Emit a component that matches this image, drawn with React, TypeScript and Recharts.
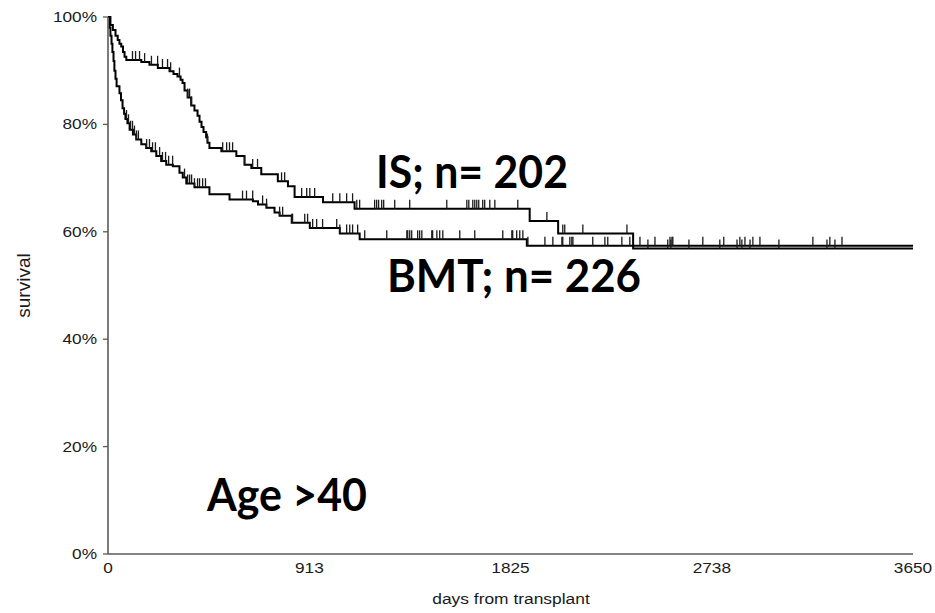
import { ComposedChart, Line, XAxis, YAxis } from "recharts";

// Kaplan-Meier survival, age > 40: IS vs BMT

const END_DAY = 3650;
const X_TICKS = [0, 913, 1825, 2738, 3650];
const Y_TICKS = [0, 20, 40, 60, 80, 100];

const isDays = [0, 11, 22, 34, 44, 52, 60, 68, 75, 83, 151, 188, 226, 279, 297, 315, 329, 338, 347, 361, 377, 392, 406, 415, 424, 433, 445, 451, 460, 514, 582, 619, 650, 695, 770, 816, 846, 975, 1118, 1912, 2041, 2381];
const isSurv = [100, 98.5, 97.6, 96.5, 95.7, 95.0, 94.5, 93.5, 92.6, 92.0, 91.6, 91.1, 90.5, 89.9, 89.4, 88.9, 88.3, 87.7, 86.3, 85.0, 83.5, 82.6, 81.6, 80.5, 79.5, 78.6, 77.6, 76.6, 75.6, 75.0, 74.1, 72.5, 71.9, 70.7, 69.4, 68.5, 66.5, 65.5, 64.3, 62.0, 59.7, 56.9];
const isCensored = [111, 125, 143, 166, 197, 225, 247, 270, 284, 324, 361, 370, 379, 451, 520, 538, 551, 565, 619, 656, 678, 787, 801, 878, 901, 915, 937, 1019, 1051, 1082, 1109, 1128, 1141, 1209, 1218, 1227, 1241, 1250, 1300, 1368, 1536, 1627, 1636, 1654, 1663, 1672, 1681, 1699, 1708, 1731, 1754, 1858, 1990, 2062, 2071, 2153, 2353, 2448, 2538, 2552, 2634, 2774, 2852, 2874, 2911, 3042, 3260, 3296];

const bmtDays = [0, 7, 11, 16, 20, 25, 29, 34, 39, 52, 59, 66, 73, 79, 88, 98, 113, 128, 151, 173, 196, 219, 241, 264, 294, 324, 339, 355, 392, 460, 551, 657, 680, 718, 755, 778, 833, 915, 1051, 1141, 1899];
const bmtSurv = [100, 98.0, 96.5, 95.0, 93.5, 91.8, 90.0, 88.5, 87.1, 85.8, 84.5, 83.0, 82.0, 81.0, 80.2, 79.0, 78.1, 77.2, 76.3, 75.6, 75.0, 74.1, 73.2, 72.5, 72.2, 71.0, 70.1, 69.0, 68.3, 67.0, 66.0, 65.7, 65.1, 64.5, 63.6, 63.0, 61.7, 60.7, 59.7, 58.6, 57.4];
const bmtCensored = [84, 93, 102, 111, 120, 129, 138, 175, 188, 202, 215, 234, 247, 261, 275, 293, 347, 361, 370, 379, 392, 406, 415, 429, 442, 610, 628, 656, 701, 719, 778, 792, 833, 837, 892, 905, 928, 946, 973, 1037, 1051, 1082, 1096, 1109, 1132, 1164, 1264, 1355, 1359, 1368, 1377, 1404, 1413, 1423, 1468, 1472, 1491, 1504, 1518, 1595, 1663, 1790, 1831, 1835, 1853, 1867, 1881, 1904, 1981, 2017, 2058, 2062, 2094, 2103, 2108, 2198, 2253, 2266, 2330, 2366, 2412, 2480, 2548, 2557, 2561, 2697, 2792, 2865, 2888, 2924, 2956, 3196, 3273, 3328];

type Row = { t: number; s: number; censored: boolean };

// step-function rows: events + censor marks (at the current level) + end of follow-up
function buildRows(days: number[], surv: number[], censored: number[]): Row[] {
  const survAt = (t: number) => {
    let s = surv[0];
    for (let i = 0; i < days.length; i++) if (days[i] <= t) s = surv[i];
    return s;
  };
  const rows: Row[] = days.map((t, i) => ({ t, s: surv[i], censored: false }));
  censored.forEach((t) => rows.push({ t, s: survAt(t), censored: true }));
  rows.push({ t: END_DAY, s: survAt(END_DAY), censored: false });
  return rows.sort((a, b) => a.t - b.t);
}

const isRows = buildRows(isDays, isSurv, isCensored);
const bmtRows = buildRows(bmtDays, bmtSurv, bmtCensored);

const FONT = "'Liberation Sans', Arial, sans-serif";
const AXIS = "#5a5a5a";
const TEXT = "#1a1a1a";

const CensorTick = (props: any) => {
  const { cx, cy, payload, index } = props;
  if (!payload?.censored || cx == null || cy == null) return <g key={`n-${index}`} />;
  return <line key={`c-${index}`} x1={cx} x2={cx} y1={cy} y2={cy - 9} stroke="#1a1a1a" strokeWidth={1.3} />;
};

const YTick = ({ x, y, payload }: any) => (
  <text transform={`translate(${x},${y + 5}) scale(1.15,1)`} textAnchor="end" fontSize={15} fontFamily={FONT} fill={TEXT}>
    {payload.value}%
  </text>
);

const XTick = ({ x, y, payload }: any) => (
  <text transform={`translate(${x},${y + 11}) scale(1.15,1)`} textAnchor="middle" fontSize={15} fontFamily={FONT} fill={TEXT}>
    {payload.value}
  </text>
);

const ANNOT = "Lato, 'Open Sans', sans-serif";

export default function App() {
  return (
    <div style={{ position: "fixed", left: 0, top: 0, width: 935, height: 613, background: "#fff" }}>
      <ComposedChart width={935} height={613} margin={{ top: 17, right: 22, left: 0, bottom: 0 }}>
        <XAxis
          type="number"
          dataKey="t"
          domain={[0, END_DAY]}
          ticks={X_TICKS}
          tick={<XTick />}
          tickLine={false}
          tickSize={0}
          tickMargin={8}
          height={59}
          axisLine={{ stroke: AXIS, strokeWidth: 1.6 }}
        />
        <YAxis
          type="number"
          domain={[0, 100]}
          ticks={Y_TICKS}
          tick={<YTick />}
          tickSize={5}
          tickMargin={6}
          width={108}
          tickLine={{ stroke: AXIS, strokeWidth: 1.3 }}
          axisLine={{ stroke: AXIS, strokeWidth: 1.6 }}
        />
        <Line
          data={bmtRows}
          dataKey="s"
          type="stepAfter"
          stroke="#000"
          strokeWidth={2}
          dot={CensorTick}
          activeDot={false}
          isAnimationActive={false}
        />
        <Line
          data={isRows}
          dataKey="s"
          type="stepAfter"
          stroke="#000"
          strokeWidth={2}
          dot={CensorTick}
          activeDot={false}
          isAnimationActive={false}
        />
      </ComposedChart>
      <svg width={935} height={613} style={{ position: "absolute", left: 0, top: 0, pointerEvents: "none" }}>
        <text transform="translate(30,285.5) rotate(-90)" textAnchor="middle" fontSize={19} fontFamily={FONT} fill={TEXT}>
          survival
        </text>
        <text transform="translate(511,604) scale(1.2,1)" textAnchor="middle" fontSize={14.5} fontFamily={FONT} fill={TEXT}>
          days from transplant
        </text>
        <text x={472} y={188} textAnchor="middle" fontSize={45} fontWeight="bold" fontFamily={ANNOT} fill="#000" textLength={192} lengthAdjust="spacingAndGlyphs">
          IS; n= 202
        </text>
        <text x={514} y={292} textAnchor="middle" fontSize={45} fontWeight="bold" fontFamily={ANNOT} fill="#000" textLength={254} lengthAdjust="spacingAndGlyphs">
          BMT; n= 226
        </text>
        <text x={287} y={511} textAnchor="middle" fontSize={45} fontWeight="bold" fontFamily={ANNOT} fill="#000" textLength={160} lengthAdjust="spacingAndGlyphs">
          Age &gt;40
        </text>
      </svg>
    </div>
  );
}
